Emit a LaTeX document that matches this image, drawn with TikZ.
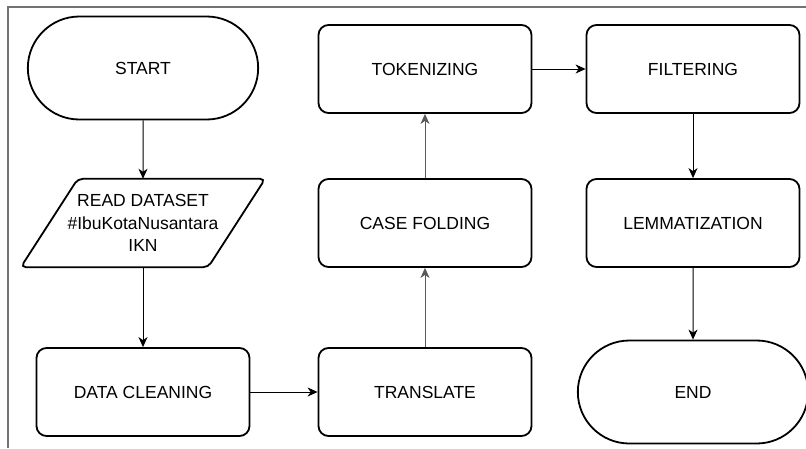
\documentclass[tikz,border=0pt]{standalone}
\usepackage{fontspec}
\setmainfont{Liberation Sans}
\usepackage{tikz}
\usetikzlibrary{arrows.meta,shapes.misc}

\tikzset{
  procbox/.style={draw, line width=1.8pt, rounded corners=10pt, minimum width=213pt,
    minimum height=88pt, align=center, font=\fontsize{17.5}{22.5}\selectfont},
  termbox/.style={draw, line width=1.8pt, rounded rectangle, minimum width=237pt,
    minimum height=103pt, font=\fontsize{17.5}{22.5}\selectfont},
  inout/.style={minimum width=244pt, minimum height=88pt, align=center,
    font=\fontsize{17.5}{22.5}\selectfont},
  flow/.style={-{Stealth[length=10pt,width=9pt,inset=3pt]}, line width=1pt},
  flowgray/.style={flow, draw=black!65},
}

\begin{document}
\begin{tikzpicture}[x=1pt,y=-1pt]
\useasboundingbox (0,0) rectangle (806,448);
% page frame
\draw[black!55, line width=1.5pt] (8,448) -- (8,7) -- (806,7);

% first column
\node[termbox] (start) at (143,68) {START};
\node[inout] (read) at (143,223) {READ DATASET\\\#IbuKotaNusantara\\IKN};
\draw[line width=1.8pt, rounded corners=5pt] (read.south west) -- ([xshift=57pt]read.north west)
  -- (read.north east) -- ([xshift=-57pt]read.south east) -- cycle;
\node[procbox] (clean) at (143,392) {DATA CLEANING};

% second column
\node[procbox] (translate) at (425,392) {TRANSLATE};
\node[procbox] (casefold) at (425,223) {CASE FOLDING};
\node[procbox] (token) at (425,69) {TOKENIZING};

% third column
\node[procbox] (filter) at (693,69) {FILTERING};
\node[procbox] (lemma) at (693,223) {LEMMATIZATION};
\node[termbox] (end) at (693,392) {END};

\draw[flow] (start) -- (read);
\draw[flow] (read) -- (clean);
\draw[flow] (clean) -- (translate);
\draw[flowgray] (translate) -- (casefold);
\draw[flowgray] (casefold) -- (token);
\draw[flow] (token) -- (filter);
\draw[flow] (filter) -- (lemma);
\draw[flow] (lemma) -- (end);
\end{tikzpicture}
\end{document}
